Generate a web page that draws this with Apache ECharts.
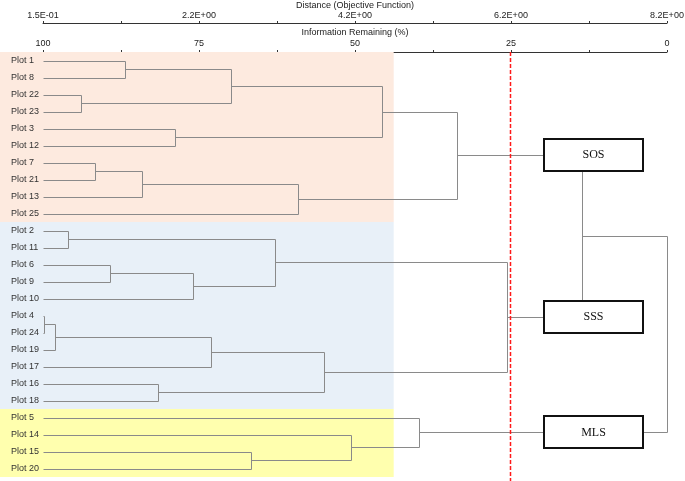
<!DOCTYPE html>
<html>
<head>
<meta charset="utf-8">
<script src="https://cdn.jsdelivr.net/npm/echarts@6/dist/echarts.min.js"></script>
<style>html,body{margin:0;padding:0;background:#fff}#c{width:685px;height:481px}</style>
</head>
<body>
<div id="c"></div>
<script>
// ---- data ----
const leaves = ['Plot 1','Plot 8','Plot 22','Plot 23','Plot 3','Plot 12','Plot 7','Plot 21','Plot 13','Plot 25',
  'Plot 2','Plot 11','Plot 6','Plot 9','Plot 10','Plot 4','Plot 24','Plot 19','Plot 17','Plot 16','Plot 18',
  'Plot 5','Plot 14','Plot 15','Plot 20'];
// merges: child A, child B (leaf name or earlier merge index), level (information remaining %)
const mergeA = ['Plot 1','Plot 22',0,'Plot 3',2,'Plot 7',5,6,4,
  'Plot 2','Plot 6',10,9,'Plot 4',13,14,'Plot 16',15,12,
  'Plot 15','Plot 14','Plot 5',8,22];
const mergeB = ['Plot 8','Plot 23',1,'Plot 12',3,'Plot 21','Plot 13','Plot 25',7,
  'Plot 11','Plot 9','Plot 10',11,'Plot 24','Plot 19','Plot 17','Plot 18',16,17,
  'Plot 20',19,20,18,21];
const mergeLevel = [86.8,93.9,69.9,78.9,45.7,91.6,84.2,59.2,33.6,
  96.0,89.3,76.0,62.9,99.8,98.0,73.0,81.6,55.0,25.7,
  66.7,50.7,39.7,13.6,0];
const groupNames = ['SOS','SSS','MLS'];
const groupNode = [8,18,21];
const groupFirst = ['Plot 1','Plot 2','Plot 5'];
const groupLast = ['Plot 25','Plot 18','Plot 20'];
const infoTicks = [0,25,50,75,100];
const distLabels = ['1.5E-01','2.2E+00','4.2E+00','6.2E+00','8.2E+00'];
const cutoff = 25.2;

// ---- layout / style constants ----
const BAND_EDGE = 43.8;
const BOX_FROM = 19.7, BOX_TO = 3.85, BOX_H = 32;
const bandColors = ['#fdeadf','#e8f0f8','#ffffae'];
const FONT = '"Liberation Sans", Arial, sans-serif';

// ---- build dendrogram ----
const nodeX = [], nodeY = [];
function ref(r){
  if (typeof r === 'string') return {x:100, y:leaves.indexOf(r)};
  return {x:nodeX[r], y:nodeY[r]};
}
const links = [];
for (let i=0;i<mergeLevel.length;i++){
  const a = ref(mergeA[i]), b = ref(mergeB[i]);
  nodeX.push(mergeLevel[i]); nodeY.push((a.y+b.y)/2);
  links.push([a.x,a.y,mergeLevel[i],b.y,b.x]);
}
const bands = groupNames.map((g,i)=>[leaves.indexOf(groupFirst[i]), leaves.indexOf(groupLast[i]), i]);
const boxes = groupNames.map((g,i)=>[nodeY[groupNode[i]], i]);

const px = v => Math.round(v)+0.5;

const chart = echarts.init(document.getElementById('c'), null, {renderer:'canvas'});
chart.setOption({
  animation:false,
  backgroundColor:'#fff',
  grid:{left:43, right:18, top:52, bottom:4, containLabel:false, outerBoundsMode:'none'},
  xAxis:[{
    type:'value', min:0, max:100, interval:12.5, inverse:true, position:'top',
    name:'Information Remaining (%)', nameLocation:'middle', nameGap:15, nameMoveOverlap:false,
    nameTextStyle:{fontFamily:FONT, fontSize:9, color:'#222'},
    axisLine:{show:true, onZero:false, lineStyle:{color:'#333', width:1}},
    axisTick:{show:true, length:2, lineStyle:{color:'#333'}},
    axisLabel:{margin:4, fontFamily:FONT, fontSize:9, color:'#222',
      formatter:v=> infoTicks.indexOf(v)>=0 ? String(v) : ''},
    splitLine:{show:false}
  },{
    type:'value', min:0, max:8, interval:1, position:'top', offset:29,
    name:'Distance (Objective Function)', nameLocation:'middle', nameGap:12.5, nameMoveOverlap:false,
    nameTextStyle:{fontFamily:FONT, fontSize:9, color:'#222'},
    axisLine:{show:true, onZero:false, lineStyle:{color:'#333', width:1}},
    axisTick:{show:true, length:2, lineStyle:{color:'#333'}},
    axisLabel:{margin:2.5, fontFamily:FONT, fontSize:9, color:'#222',
      formatter:v=> v%2===0 ? distLabels[v/2] : ''},
    splitLine:{show:false}
  }],
  yAxis:[{
    type:'category', data:leaves, inverse:true, position:'left', z:10,
    axisLine:{show:false, onZero:false}, axisTick:{show:false}, splitLine:{show:false},
    axisLabel:{show:true, interval:0, align:'left', margin:32, fontFamily:FONT, fontSize:9, color:'#333'}
  },{
    type:'value', min:-0.5, max:24.5, inverse:true, show:false,
    axisLine:{onZero:false}
  }],
  series:[{
    type:'line', xAxisIndex:0, yAxisIndex:0, data:[], silent:true, showSymbol:false
  },{
    type:'custom', xAxisIndex:0, yAxisIndex:1, z:1, silent:true,
    data:bands,
    renderItem:(params, api)=>{
      const y0 = api.coord([100, api.value(0)-0.5])[1];
      const y1 = api.coord([100, api.value(1)+0.5])[1];
      const xr = api.coord([BAND_EDGE, 0])[0];
      return {type:'rect', shape:{x:0, y:y0, width:xr, height:y1-y0},
        style:{fill:bandColors[api.value(2)]}};
    }
  },{
    type:'custom', xAxisIndex:0, yAxisIndex:1, z:3, silent:true,
    data:links,
    renderItem:(params, api)=>{
      const p1 = api.coord([api.value(0), api.value(1)]);
      const p2 = api.coord([api.value(2), api.value(1)]);
      const p3 = api.coord([api.value(2), api.value(3)]);
      const p4 = api.coord([api.value(4), api.value(3)]);
      const pts = [p1,p2,p3,p4].map(p=>[px(p[0]), px(p[1])]);
      return {type:'polyline', shape:{points:pts},
        style:{stroke:'#8a8a8a', lineWidth:1, fill:null}};
    }
  },{
    type:'custom', xAxisIndex:0, yAxisIndex:1, z:5, silent:true,
    data:boxes,
    renderItem:(params, api)=>{
      const cy = api.coord([0, api.value(0)])[1];
      const xl = api.coord([BOX_FROM, 0])[0];
      const xr = api.coord([BOX_TO, 0])[0];
      const y0 = Math.round(cy - BOX_H/2);
      return {type:'group', children:[
        {type:'rect', shape:{x:Math.round(xl), y:y0, width:Math.round(xr-xl), height:BOX_H},
          style:{fill:'#fff', stroke:'#111', lineWidth:2}},
        {type:'text', x:(xl+xr)/2, y:cy,
          style:{text:groupNames[api.value(1)], font:'12px "Liberation Serif", "Times New Roman", serif',
            fill:'#111', align:'center', verticalAlign:'middle'}}
      ]};
    }
  },{
    type:'custom', xAxisIndex:0, yAxisIndex:1, z:6, silent:true,
    data:[[cutoff]],
    renderItem:(params, api)=>{
      const x = px(api.coord([api.value(0), 0])[0]);
      const yTop = api.coord([api.value(0), -0.5])[1];
      return {type:'line', shape:{x1:x, y1:yTop, x2:x, y2:api.getHeight()},
        style:{stroke:'#ff1a1a', lineWidth:1.5, lineDash:[4,2]}};
    }
  }]
});
</script>
</body>
</html>
